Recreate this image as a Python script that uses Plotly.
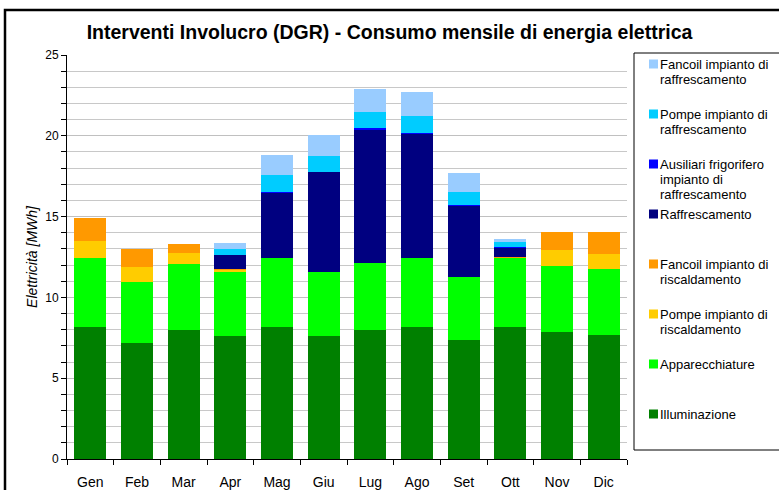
import plotly.graph_objects as go

# data (MWh per month, stacked)
mesi = ["Gen", "Feb", "Mar", "Apr", "Mag", "Giu", "Lug", "Ago", "Set", "Ott", "Nov", "Dic"]

illuminazione = [8.19, 7.18, 7.98, 7.61, 8.19, 7.61, 7.98, 8.19, 7.36, 8.17, 7.86, 7.67]
apparecchiature = [4.25, 3.77, 4.09, 4.02, 4.25, 3.96, 4.15, 4.25, 3.90, 4.27, 4.08, 4.09]
pompe_risc = [1.05, 0.93, 0.68, 0.08, 0, 0, 0, 0, 0, 0.04, 0.99, 0.93]
fancoil_risc = [1.42, 1.11, 0.57, 0.06, 0, 0, 0, 0, 0, 0.03, 1.12, 1.36]
raffrescamento = [0, 0, 0, 0.86, 4.08, 6.19, 8.29, 7.73, 4.40, 0.56, 0, 0]
ausiliari_raff = [0, 0, 0, 0.01, 0.03, 0.03, 0.08, 0.03, 0.06, 0.02, 0, 0]
pompe_raff = [0, 0, 0, 0.37, 1.05, 0.99, 0.97, 1.05, 0.80, 0.31, 0, 0]
fancoil_raff = [0, 0, 0, 0.38, 1.24, 1.30, 1.43, 1.43, 1.18, 0.24, 0, 0]

serie = [
    ("Illuminazione", illuminazione, "#008000"),
    ("Apparecchiature", apparecchiature, "#00FF00"),
    ("Pompe impianto di<br>riscaldamento", pompe_risc, "#FFCC00"),
    ("Fancoil impianto di<br>riscaldamento", fancoil_risc, "#FF9900"),
    ("Raffrescamento", raffrescamento, "#000080"),
    ("Ausiliari frigorifero<br>impianto di<br>raffrescamento", ausiliari_raff, "#0000FF"),
    ("Pompe impianto di<br>raffrescamento", pompe_raff, "#00CCFF"),
    ("Fancoil impianto di<br>raffrescamento", fancoil_raff, "#99CCFF"),
]

FONT = "Liberation Sans, Arial, sans-serif"

# plot area in pixels
L, R, T, B = 67, 627, 55, 459
W, H = 779, 490


def px_x(p):
    return (p - L) / (R - L)


def px_y(p):
    return (B - p) / (B - T)


fig = go.Figure()
for nome, vals, col in serie:
    fig.add_trace(go.Bar(x=mesi, y=vals, name=nome, marker=dict(color=col, line=dict(width=0)),
                         showlegend=False))

# outer border and legend box
shapes = [
    dict(type="rect", xref="paper", yref="paper", x0=px_x(5), x1=px_x(900), y0=px_y(600), y1=px_y(10),
         line=dict(color="black", width=2.5)),
    dict(type="rect", xref="paper", yref="paper", x0=px_x(634), x1=px_x(900), y0=px_y(450), y1=px_y(53),
         line=dict(color="black", width=1)),
]
annotations = []
# manual legend, top = last series
for i, (nome, vals, col) in enumerate(reversed(serie)):
    cy = 64 + 50 * i
    shapes.append(dict(type="rect", xref="paper", yref="paper", x0=px_x(649), x1=px_x(658),
                       y0=px_y(cy + 4.5), y1=px_y(cy - 4.5), fillcolor=col, line=dict(width=0)))
    for j, riga in enumerate(nome.split("<br>")):
        annotations.append(dict(text=riga, xref="paper", yref="paper", x=px_x(658), y=px_y(cy + 15 * j),
                                xanchor="left", yanchor="middle", align="left", showarrow=False,
                                font=dict(family=FONT, size=13, color="black")))

fig.update_layout(
    width=W, height=H,
    margin=dict(l=L, r=W - R, t=T, b=H - B),
    barmode="stack", bargap=0.31,
    plot_bgcolor="white", paper_bgcolor="white",
    title=dict(text="<b>Interventi Involucro (DGR) - Consumo mensile di energia elettrica</b>",
               x=0.5, xanchor="center", y=1 - 32 / H, yanchor="middle",
               font=dict(family=FONT, size=19.5, color="black")),
    font=dict(family=FONT, size=12, color="black"),
    showlegend=False,
    shapes=shapes,
    annotations=annotations,
)
fig.update_yaxes(range=[0, 25], dtick=5, showline=True, linecolor="black", linewidth=1,
                 ticks="outside", ticklen=5, tickcolor="black", automargin=False,
                 showgrid=True, gridcolor="#c0c0c0", gridwidth=1,
                 minor=dict(dtick=1, ticks="outside", ticklen=5, tickcolor="black",
                            showgrid=True, gridcolor="#c8c8c8", gridwidth=1),
                 zeroline=False, tickfont=dict(size=12),
                 title=dict(text="<i>Elettricità [MWh]</i>", font=dict(size=14), standoff=4))
fig.update_xaxes(showline=True, linecolor="black", linewidth=1, ticks="outside", ticklen=5,
                 tickcolor="black", tickson="boundaries", tickfont=dict(size=14),
                 ticklabelstandoff=10, automargin=False, mirror=False)

fig.write_html("out.html", config={"displayModeBar": False},
               post_script="document.body.style.margin='0';")
